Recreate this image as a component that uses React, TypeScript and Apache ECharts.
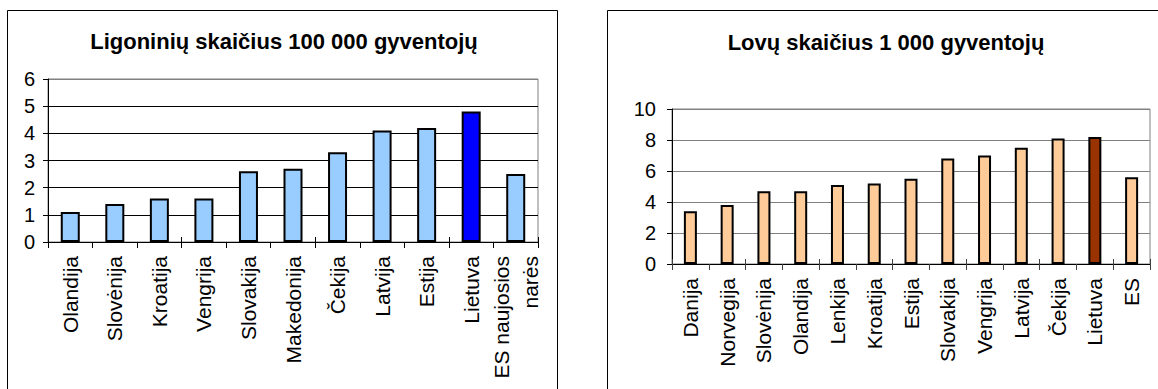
import React, { useEffect, useRef } from "react";
import * as echarts from "echarts";

const leftTitle = "Ligoninių skaičius 100 000 gyventojų";
const leftCategories = ["Olandija", "Slovėnija", "Kroatija", "Vengrija", "Slovakija", "Makedonija", "Čekija", "Latvija", "Estija", "Lietuva", "ES naujosios\nnarės"];
const leftValues = [1.1, 1.4, 1.6, 1.6, 2.6, 2.7, 3.3, 4.1, 4.2, 4.8, 2.5];
const leftAxis = { min: 0, max: 6, interval: 1 };

const rightTitle = "Lovų skaičius 1 000 gyventojų";
const rightCategories = ["Danija", "Norvegija", "Slovėnija", "Olandija", "Lenkija", "Kroatija", "Estija", "Slovakija", "Vengrija", "Latvija", "Čekija", "Lietuva", "ES"];
const rightValues = [3.4, 3.8, 4.7, 4.7, 5.1, 5.2, 5.5, 6.8, 7.0, 7.5, 8.1, 8.2, 5.6];
const rightAxis = { min: 0, max: 10, interval: 2 };

const highlight = "Lietuva";
const FONT = '"Liberation Sans", Arial, sans-serif';

export default function App() {
  const ref = useRef<HTMLDivElement>(null);
  useEffect(() => {
    if (!ref.current) return;
    const chart = echarts.init(ref.current, null, { renderer: "svg" });

    const mkData = (cats: string[], vals: number[], base: string, hi: string) =>
      vals.map((v, i) => ({
        value: v,
        itemStyle: { color: cats[i] === highlight ? hi : base },
      }));

    const leftSplitColors = [0, 1, 2, 3, 4, 5, 6].map((i) => (i === 6 ? "#808080" : "#000"));
    const rightSplitColors = [0, 1, 2, 3, 4, 5].map(() => "#808080");

    const option: any = {
      animation: false,
      textStyle: { fontFamily: FONT },
      grid: [
        { left: 48, top: 79, width: 490, height: 163, show: true, borderColor: "#808080", borderWidth: 1, containLabel: false },
        { left: 672, top: 109, width: 478, height: 155, show: true, borderColor: "#808080", borderWidth: 1, containLabel: false },
      ],
      xAxis: [
        {
          type: "category", gridIndex: 0, data: leftCategories,
          axisLine: { lineStyle: { color: "#000", width: 1 } },
          axisTick: { show: true, length: 6, lineStyle: { color: "#000" } },
          axisLabel: { rotate: 90, margin: 14, color: "#000", fontSize: 21, fontFamily: FONT, interval: 0, lineHeight: 29 },
          splitLine: { show: false },
        },
        {
          type: "category", gridIndex: 0, data: leftCategories, position: "bottom",
          axisLine: { show: false },
          axisTick: { show: true, inside: true, length: 5, lineStyle: { color: "#000" } },
          axisLabel: { show: false },
          splitLine: { show: false },
        },
        {
          type: "category", gridIndex: 1, data: rightCategories,
          axisLine: { lineStyle: { color: "#000", width: 1 } },
          axisTick: { show: true, length: 6, lineStyle: { color: "#404040" } },
          axisLabel: { rotate: 90, margin: 14, color: "#000", fontSize: 21, fontFamily: FONT, interval: 0 },
          splitLine: { show: false },
        },
        {
          type: "category", gridIndex: 1, data: rightCategories, position: "bottom",
          axisLine: { show: false },
          axisTick: { show: true, inside: true, length: 5, lineStyle: { color: "#404040" } },
          axisLabel: { show: false },
          splitLine: { show: false },
        },
      ],
      yAxis: [
        {
          type: "value", gridIndex: 0, min: leftAxis.min, max: leftAxis.max, interval: leftAxis.interval,
          axisLine: { show: true, lineStyle: { color: "#000" } },
          axisTick: { show: true, length: 5, lineStyle: { color: "#000" } },
          axisLabel: { margin: 13, color: "#000", fontSize: 20, fontFamily: FONT },
          splitLine: { show: true, lineStyle: { color: leftSplitColors, width: 1 } },
        },
        {
          type: "value", gridIndex: 1, min: rightAxis.min, max: rightAxis.max, interval: rightAxis.interval,
          axisLine: { show: true, lineStyle: { color: "#000" } },
          axisTick: { show: true, length: 5, lineStyle: { color: "#000" } },
          axisLabel: { margin: 16, color: "#000", fontSize: 20, fontFamily: FONT },
          splitLine: { show: true, lineStyle: { color: rightSplitColors, width: 1 } },
        },
      ],
      series: [
        {
          type: "bar", xAxisIndex: 0, yAxisIndex: 0, barWidth: 19,
          data: mkData(leftCategories, leftValues, "#99CCFF", "#0000FF"),
          itemStyle: { borderColor: "#000", borderWidth: 2 },
          emphasis: { disabled: true },
        },
        {
          type: "bar", xAxisIndex: 2, yAxisIndex: 1, barWidth: 13,
          data: mkData(rightCategories, rightValues, "#FFCC99", "#993300"),
          itemStyle: { borderColor: "#000", borderWidth: 2 },
          emphasis: { disabled: true },
        },
      ],
      graphic: [
        { type: "rect", shape: { x: 7.5, y: 10.5, width: 550, height: 420 }, style: { fill: "none", stroke: "#000", lineWidth: 1 }, z: -1 },
        { type: "rect", shape: { x: 607.5, y: 10.5, width: 600, height: 420 }, style: { fill: "none", stroke: "#000", lineWidth: 1 }, z: -1 },
        { type: "text", x: 284, y: 41, style: { text: leftTitle, fontSize: 22, fontWeight: "bold", fontFamily: FONT, fill: "#000", align: "center", verticalAlign: "middle" } },
        { type: "text", x: 886, y: 42, style: { text: rightTitle, fontSize: 22, fontWeight: "bold", fontFamily: FONT, fill: "#000", align: "center", verticalAlign: "middle" } },
      ],
    };
    chart.setOption(option);
    return () => chart.dispose();
  }, []);
  return (
    <div
      ref={ref}
      style={{ position: "fixed", left: 0, top: 0, width: 1158, height: 389, background: "#fff" }}
    />
  );
}
